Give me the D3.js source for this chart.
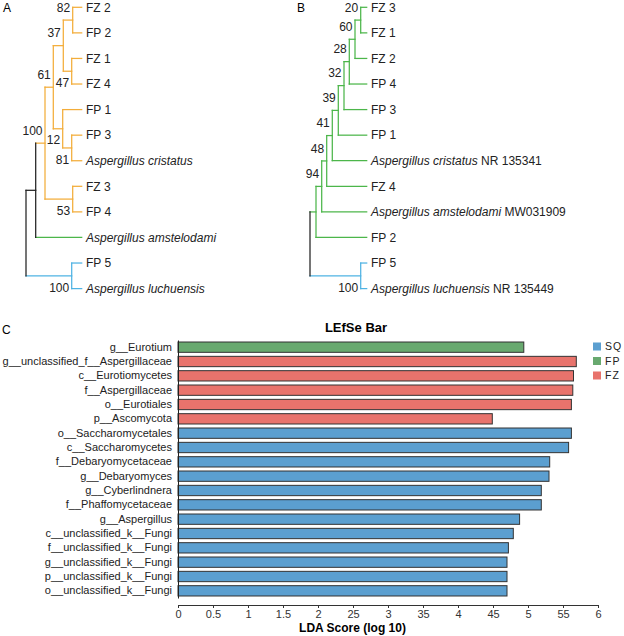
<!DOCTYPE html>
<html>
<head>
<meta charset="utf-8">
<script src="https://cdn.jsdelivr.net/npm/d3@7"></script>
<style>
  body { margin: 0; background: #fff; }
  svg { font-family: "Liberation Sans", Arial, sans-serif; }
</style>
</head>
<body>
<div id="graph"></div>
<script>
const w = 624;
const h = 636;

// tree A: [id, parent, branch length, bootstrap]
const treeA = [
  ["rootA", null, 0, null],
  ["amA", "rootA", 9.7, null],
  ["inA", "amA", 9.3, 100],
  ["n61", "inA", 8.3, 61],
  ["n37", "n61", 10, 37],
  ["n82", "n37", 9.4, 82],
  ["FZ 2", "n82", 9, null],
  ["FP 2", "n82", 9, null],
  ["n47", "n37", 8.4, 47],
  ["FZ 1", "n47", 10, null],
  ["FZ 4", "n47", 10, null],
  ["n12", "n61", 9.4, 12],
  ["FP 1", "n12", 19, null],
  ["n81", "n12", 9, 81],
  ["FP 3", "n81", 10, null],
  ["Aspergillus cristatus", "n81", 10, null],
  ["n53", "inA", 27.7, 53],
  ["FZ 3", "n53", 9, null],
  ["FP 4", "n53", 9, null],
  ["Aspergillus amstelodami", "amA", 46, null],
  ["luA", "rootA", 45.7, 100],
  ["FP 5", "luA", 10, null],
  ["Aspergillus luchuensis", "luA", 10, null]
];

// tree B
const treeB = [
  ["rootB", null, 0, null],
  ["fp2B", "rootB", 6, null],
  ["n94", "fp2B", 5.7, 94],
  ["n48", "n94", 5, 48],
  ["n41", "n48", 5.6, 41],
  ["n39", "n41", 6, 39],
  ["n32", "n39", 5.7, 32],
  ["n28", "n32", 5.3, 28],
  ["n60", "n28", 5.7, 60],
  ["n20", "n60", 5.7, 20],
  ["FZ 3", "n20", 6, null],
  ["FZ 1", "n20", 6, null],
  ["FZ 2", "n60", 11.7, null],
  ["FP 4", "n28", 17.4, null],
  ["FP 3", "n32", 22.7, null],
  ["FP 1", "n39", 28.4, null],
  ["Aspergillus cristatus", "n41", 34.4, null],
  ["FZ 4", "n48", 40, null],
  ["Aspergillus amstelodami", "n94", 45, null],
  ["FP 2", "fp2B", 50.7, null],
  ["luB", "rootB", 50.7, 100],
  ["FP 5", "luB", 6, null],
  ["Aspergillus luchuensis", "luB", 6, null]
];

const accessionB = {
  "Aspergillus cristatus": "NR 135341",
  "Aspergillus amstelodami": "MW031909",
  "Aspergillus luchuensis": "NR 135449"
};

// LEfSe
const features = [
  "g__Eurotium", "g__unclassified_f__Aspergillaceae", "c__Eurotiomycetes",
  "f__Aspergillaceae", "o__Eurotiales", "p__Ascomycota", "o__Saccharomycetales",
  "c__Saccharomycetes", "f__Debaryomycetaceae", "g__Debaryomyces",
  "g__Cyberlindnera", "f__Phaffomycetaceae", "g__Aspergillus",
  "c__unclassified_k__Fungi", "f__unclassified_k__Fungi", "g__unclassified_k__Fungi",
  "p__unclassified_k__Fungi", "o__unclassified_k__Fungi"
];
const ldaScores = [4.94, 5.69, 5.65, 5.64, 5.62, 4.49, 5.62, 5.58, 5.31, 5.30,
  5.19, 5.19, 4.88, 4.79, 4.72, 4.70, 4.70, 4.70];
const featureGroups = ["FP", "FZ", "FZ", "FZ", "FZ", "FZ", "SQ", "SQ", "SQ", "SQ",
  "SQ", "SQ", "SQ", "SQ", "SQ", "SQ", "SQ", "SQ"];
const legendGroups = ["SQ", "FP", "FZ"];
const tickValues = [0, 0.5, 1, 1.5, 2, 2.5, 3, 3.5, 4, 4.5, 5, 5.5, 6];
const tickLabels = ["0", "0.5", "1", "1.5", "2", "25", "3", "35", "4", "45", "5", "55", "6"];

const orange = "#f3ad3a";
const treeGreen = "#4cb64a";
const treeBlue = "#4fb3e3";
const groupColor = { SQ: "#5b9fd0", FP: "#68a96f", FZ: "#e8736c" };

const svg = d3.select("#graph").
append("svg").
attr("width", w).
attr("height", h);

const leafY = d3.scalePoint().domain(d3.range(12)).range([7.3, 288.6]);

function drawTree(rows, xScale, colors, below, acc) {
  const root = d3.stratify().id(d => d[0]).parentId(d => d[1])(rows);
  root.eachBefore(n => {
    n.len = n.parent ? n.parent.len + n.data[2] : 0;
    n.color = colors[n.id] || (n.parent ? n.parent.color : "#222");
  });
  root.leaves().forEach((l, i) => l.py = leafY(i));
  root.eachAfter(n => {
    if (n.children) n.py = (n.children[0].py + n.children[n.children.length - 1].py) / 2;
  });

  const g = svg.append("g");
  const nodes = root.descendants();

  g.selectAll("line.h").
  data(nodes.filter(n => n.parent)).
  enter().
  append("line").
  attr("x1", n => xScale(n.parent.len)).
  attr("x2", n => xScale(n.len)).
  attr("y1", n => n.py).
  attr("y2", n => n.py).
  attr("stroke", n => n.color).
  attr("stroke-width", 1.25).
  attr("stroke-linecap", "square");

  g.selectAll("line.v").
  data(nodes.filter(n => n.children)).
  enter().
  append("line").
  attr("x1", n => xScale(n.len)).
  attr("x2", n => xScale(n.len)).
  attr("y1", n => n.children[0].py).
  attr("y2", n => n.children[n.children.length - 1].py).
  attr("stroke", n => n.color).
  attr("stroke-width", 1.25).
  attr("stroke-linecap", "square");

  g.selectAll("text.sup").
  data(nodes.filter(n => n.data[3] != null)).
  enter().
  append("text").
  attr("x", n => xScale(n.len) - 2.5).
  attr("y", n => n.py + (below.includes(n.id) ? 11.5 : -12.5)).
  attr("dy", "0.35em").
  attr("text-anchor", "end").
  attr("font-size", 12).
  attr("fill", "#222").
  text(n => n.data[3]);

  const lab = g.selectAll("text.leaf").
  data(root.leaves()).
  enter().
  append("text").
  attr("x", n => xScale(n.len) + 4.3).
  attr("y", n => n.py).
  attr("dy", "0.35em").
  attr("font-size", 12).
  attr("fill", "#222");

  lab.append("tspan").
  attr("font-style", n => n.id.startsWith("Aspergillus") ? "italic" : "normal").
  text(n => n.id);
  lab.filter(n => acc[n.id]).
  append("tspan").
  text(n => " " + acc[n.id]);
}

const xTreeA = d3.scaleLinear().domain([0, 55.7]).range([26, 81.7]);
const xTreeB = d3.scaleLinear().domain([0, 56.7]).range([310, 366.7]);

drawTree(treeA, xTreeA,
  { rootA: "#222", amA: "#222", inA: orange, "Aspergillus amstelodami": treeGreen, luA: treeBlue },
  ["n47", "n12", "n81", "n53", "luA"], {});
drawTree(treeB, xTreeB,
  { rootB: "#222", fp2B: treeGreen, luB: treeBlue },
  ["luB"], accessionB);

// panel letters
svg.append("text").attr("x", 3).attr("y", 8).attr("dy", "0.35em").attr("font-size", 12).text("A");
svg.append("text").attr("x", 297).attr("y", 8).attr("dy", "0.35em").attr("font-size", 12).text("B");
svg.append("text").attr("x", 2).attr("y", 330).attr("dy", "0.35em").attr("font-size", 12).text("C");

// LEfSe bar chart
const xScale = d3.scaleLinear().domain([0, 6]).range([178, 598]);
const yScale = d3.scaleBand().domain(features).range([340, 598]).paddingInner(0.28).paddingOuter(0.14);

svg.selectAll("rect.bar").
data(features).
enter().
append("rect").
attr("class", "bar").
attr("x", xScale(0)).
attr("y", d => yScale(d)).
attr("width", (d, i) => xScale(ldaScores[i]) - xScale(0)).
attr("height", yScale.bandwidth()).
attr("fill", (d, i) => groupColor[featureGroups[i]]).
attr("stroke", "#333").
attr("stroke-width", 1);

const yAxis = d3.axisLeft(yScale).tickSize(0).tickSizeOuter(0).tickPadding(6);
const yG = svg.append("g").
attr("transform", "translate(" + xScale(0) + ",0)").
call(yAxis);
yG.select(".domain").attr("stroke", "#222");
yG.selectAll("text").attr("font-size", 11).attr("fill", "#222").attr("font-family", "Liberation Sans, Arial, sans-serif");

const xAxis = d3.axisBottom(xScale).
tickValues(tickValues).
tickFormat((d, i) => tickLabels[i]).
tickSize(3).
tickSizeOuter(0).
tickPadding(2);
const xG = svg.append("g").
attr("transform", "translate(0,605)").
call(xAxis);
xG.select(".domain").attr("stroke", "#333");
xG.selectAll(".tick line").attr("stroke", "#333");
xG.selectAll("text").attr("font-size", 11).attr("fill", "#333").attr("font-family", "Liberation Sans, Arial, sans-serif");

svg.append("text").
attr("x", 356).
attr("y", 327).
attr("dy", "0.35em").
attr("text-anchor", "middle").
attr("font-size", 13).
attr("font-weight", "bold").
text("LEfSe Bar");

svg.append("text").
attr("x", 352.5).
attr("y", 628).
attr("dy", "0.35em").
attr("text-anchor", "middle").
attr("font-size", 12).
attr("font-weight", "bold").
text("LDA Score (log 10)");

const legendY = d3.scalePoint().domain(legendGroups).range([346.5, 375.5]);
const legend = svg.selectAll("g.legend").
data(legendGroups).
enter().
append("g").
attr("transform", d => "translate(593," + legendY(d) + ")");
legend.append("rect").
attr("x", 0).
attr("y", -4).
attr("width", 8).
attr("height", 8).
attr("fill", d => groupColor[d]);
legend.append("text").
attr("x", 12).
attr("dy", "0.35em").
attr("font-size", 10.5).
attr("letter-spacing", 1).
attr("fill", "#222").
text(d => d);
</script>
</body>
</html>
